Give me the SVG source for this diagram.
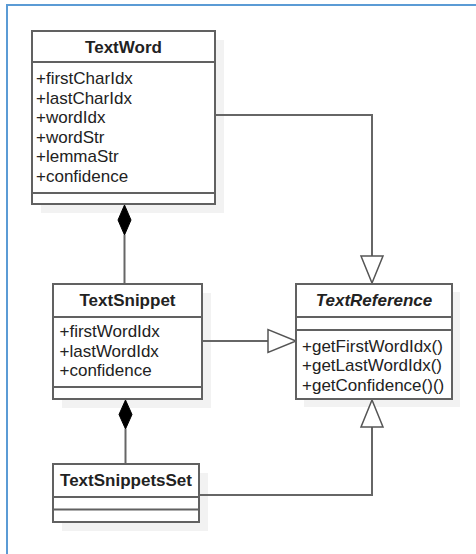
<svg xmlns="http://www.w3.org/2000/svg" width="476" height="554" viewBox="0 0 476 554">
  <style>
    .shadow { fill: #f2f2f2; stroke: none; }
    .box { fill: #ffffff; stroke: #616161; stroke-width: 2; }
    .div { stroke: #616161; stroke-width: 2; fill: none; }
    .title { font-family: "Liberation Sans", Arial, sans-serif; font-size: 17px; font-weight: bold; fill: #222222; text-anchor: middle; }
    .abstract { font-style: italic; }
    .member { font-family: "Liberation Sans", Arial, sans-serif; font-size: 17px; fill: #222222; }
    .edge { fill: none; stroke: #666666; stroke-width: 2; }
    .hollow { fill: #ffffff; stroke: #555555; stroke-width: 1.5; stroke-linejoin: miter; }
    .solid { fill: #000000; stroke: #000000; stroke-width: 1; }
  </style>

  <!-- page frame -->
  <path d="M7 554 V5 H476" fill="none" stroke="#5b9bd5" stroke-width="2"/>

  <!-- drop shadows behind the classes -->
  <g id="shadows">
    <rect class="shadow" x="41" y="40" width="183" height="173"/>
    <rect class="shadow" x="62" y="293" width="149" height="115"/>
    <rect class="shadow" x="62" y="473" width="146" height="58"/>
    <rect class="shadow" x="304" y="292" width="156" height="115"/>
  </g>

  <!-- connectors -->
  <g id="connectors">
    <!-- TextWord realizes TextReference -->
    <path class="edge" d="M215 115 H372 V256"/>
    <polygon class="hollow" points="361,256 383,256 372,283"/>
    <!-- TextSnippet realizes TextReference -->
    <path class="edge" d="M202 341 H268"/>
    <polygon class="hollow" points="268,329.5 268,352.5 296,341"/>
    <!-- TextSnippetsSet realizes TextReference -->
    <path class="edge" d="M199 495 H372 V427"/>
    <polygon class="hollow" points="361,427 383,427 372,400"/>
    <!-- TextWord composed into TextSnippet -->
    <path class="edge" d="M124.5 235 V284"/>
    <polygon class="solid" points="124.5,205 131,220 124.5,235 118,220"/>
    <!-- TextSnippet composed into TextSnippetsSet -->
    <path class="edge" d="M125.5 429 V464"/>
    <polygon class="solid" points="125.5,400 132,414.5 125.5,429 119,414.5"/>
  </g>

  <g id="TextWord">
    <rect class="box" x="32" y="31" width="183" height="173"/>
    <line class="div" x1="32" y1="62" x2="215" y2="62"/>
    <line class="div" x1="32" y1="193" x2="215" y2="193"/>
    <text class="title" x="123.5" y="53">TextWord</text>
    <text class="member" x="36" y="84">+firstCharIdx</text>
    <text class="member" x="36" y="103.5">+lastCharIdx</text>
    <text class="member" x="36" y="123">+wordIdx</text>
    <text class="member" x="36" y="142.5">+wordStr</text>
    <text class="member" x="36" y="162">+lemmaStr</text>
    <text class="member" x="36" y="181.5">+confidence</text>
  </g>

  <g id="TextSnippet">
    <rect class="box" x="53" y="284" width="149" height="115"/>
    <line class="div" x1="53" y1="317" x2="202" y2="317"/>
    <line class="div" x1="53" y1="387" x2="202" y2="387"/>
    <text class="title" x="127.5" y="306">TextSnippet</text>
    <text class="member" x="59.5" y="337">+firstWordIdx</text>
    <text class="member" x="59.5" y="356.5">+lastWordIdx</text>
    <text class="member" x="59.5" y="376">+confidence</text>
  </g>

  <g id="TextSnippetsSet">
    <rect class="box" x="53" y="464" width="146" height="58"/>
    <line class="div" x1="53" y1="497" x2="199" y2="497"/>
    <line class="div" x1="53" y1="509.5" x2="199" y2="509.5"/>
    <text class="title" x="126" y="486">TextSnippetsSet</text>
  </g>

  <g id="TextReference">
    <rect class="box" x="296" y="284" width="156" height="115"/>
    <line class="div" x1="296" y1="317" x2="452" y2="317"/>
    <line class="div" x1="296" y1="330" x2="452" y2="330"/>
    <text class="title abstract" x="374" y="306">TextReference</text>
    <text class="member" x="302" y="351.5">+getFirstWordIdx()</text>
    <text class="member" x="302" y="371">+getLastWordIdx()</text>
    <text class="member" x="302" y="390.5">+getConfidence()()</text>
  </g>
</svg>
